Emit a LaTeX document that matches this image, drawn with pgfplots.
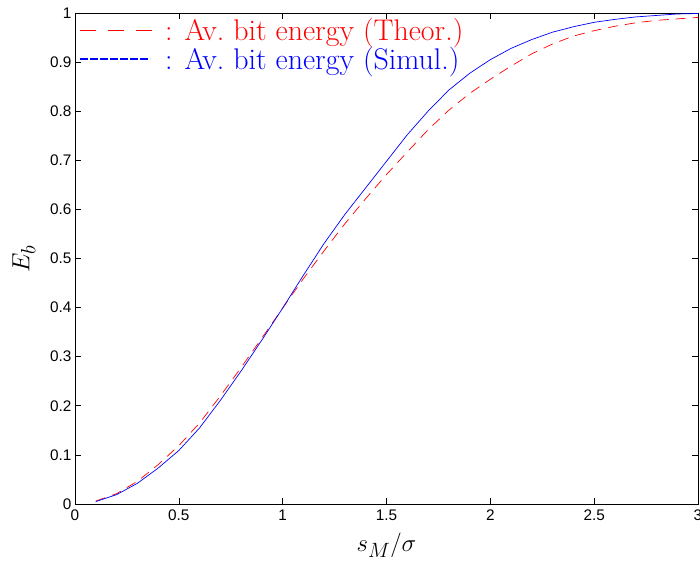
\documentclass[border=0pt]{standalone}
\usepackage{fontspec}
\setsansfont{Liberation Sans}
\usepackage{pgfplots}
\pgfplotsset{compat=1.18}
\pgfplotstableread{
x y
0.1 0.006
0.2 0.021
0.3 0.046
0.4 0.080
0.5 0.119
0.6 0.165
0.7 0.220
0.8 0.278
0.9 0.338
1.0 0.399
1.1 0.459
1.2 0.516
1.3 0.571
1.4 0.622
1.5 0.671
1.6 0.717
1.7 0.762
1.8 0.802
1.9 0.836
2.0 0.865
2.1 0.892
2.2 0.917
2.3 0.937
2.4 0.953
2.5 0.964
2.6 0.973
2.7 0.980
2.8 0.985
2.9 0.988
3.0 0.991
}\theor
\pgfplotstableread{
x y
0.1 0.005
0.2 0.019
0.3 0.042
0.4 0.073
0.5 0.109
0.6 0.155
0.7 0.211
0.8 0.271
0.9 0.334
1.0 0.399
1.1 0.466
1.2 0.531
1.3 0.590
1.4 0.644
1.5 0.698
1.6 0.752
1.7 0.800
1.8 0.843
1.9 0.877
2.0 0.905
2.1 0.928
2.2 0.946
2.3 0.961
2.4 0.972
2.5 0.981
2.6 0.987
2.7 0.992
2.8 0.995
2.9 0.998
3.0 0.999
}\simul
\begin{document}
\begin{tikzpicture}
\begin{axis}[
  at={(0,0)}, anchor=south west,
  scale only axis, width=623bp, height=491bp,
  xmin=0, xmax=3, ymin=0, ymax=1,
  xtick={0,0.5,1,1.5,2,2.5,3},
  ytick={0,0.1,0.2,0.3,0.4,0.5,0.6,0.7,0.8,0.9,1},
  tick align=inside, major tick length=6bp,
  axis line style={line width=0.7bp},
  every tick/.style={black, line width=0.6bp},
  tick label style={font=\sffamily\fontsize{15.4}{18}\selectfont},
  /pgf/number format/assume math mode=true,
  xticklabel style={yshift=-2bp},
  xlabel={$s_M/\sigma$},
  ylabel={$E_b$},
  xlabel style={font=\fontsize{29}{33}\selectfont, at={(axis description cs:0.5,-0.084)}, anchor=center},
  ylabel style={font=\fontsize{30}{34}\selectfont, at={(axis description cs:-0.082,0.5)}, anchor=center},
  legend style={at={(axis description cs:0,1)}, anchor=north west, yshift=-3bp, draw=none, fill=none,
    font=\fontsize{30}{34}\selectfont, row sep=1bp, inner xsep=4bp, inner ysep=0bp,
    nodes={inner xsep=2bp, inner ysep=2bp}},
  legend cell align=left,
]
\addplot[red, line width=0.7bp, dash pattern=on 10bp off 7bp,
  legend image code/.code={\draw[color=red, line width=1bp, dash pattern=on 16bp off 12bp] (5bp,0bp) -- (77bp,0bp);}]
  table {\theor};
\addlegendentry{\textcolor{red}{\hspace{11bp}: Av.\ bit energy (Theor.)}}
\addplot[blue, line width=0.7bp,
  legend image code/.code={\draw[color=blue, line width=1.1bp, dash pattern=on 8bp off 2bp] (5bp,0bp) -- (75bp,0bp);}]
  table {\simul};
\addlegendentry{\textcolor{blue}{\hspace{11bp}: Av.\ bit energy (Simul.)}}
\end{axis}
\pgfresetboundingbox
\useasboundingbox (-75bp,-59bp) rectangle (625bp,504bp);
\end{tikzpicture}
\end{document}
